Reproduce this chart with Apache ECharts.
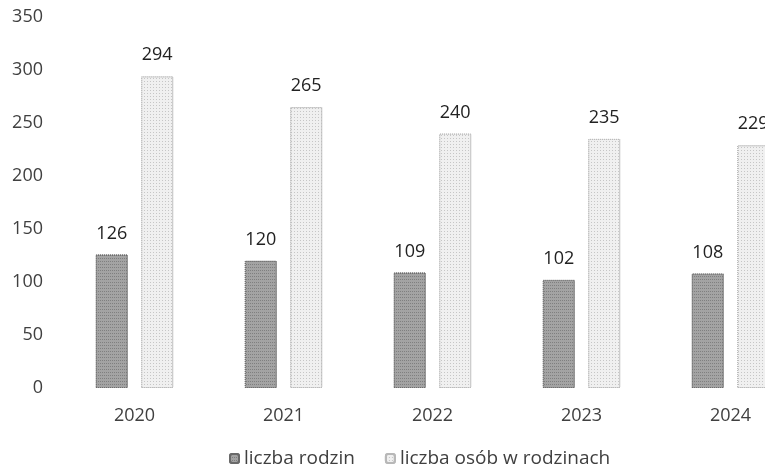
<!DOCTYPE html>
<html>
<head>
<meta charset="utf-8">
<script src="https://cdn.jsdelivr.net/npm/echarts@6/dist/echarts.min.js"></script>
<style>html,body{margin:0;padding:0;background:#fff;overflow:hidden;width:765px;height:475px;}#c{width:810px;height:475px;}</style>
</head>
<body>
<div id="c"></div>
<script>
const categories = ['2020', '2021', '2022', '2023', '2024'];
const families = [126, 120, 109, 102, 108];
const persons = [294, 265, 240, 235, 229];
const yTicks = { min: 0, max: 350, interval: 50 };
const seriesNames = ['liczba rodzin', 'liczba osób w rodzinach'];

const chart = echarts.init(document.getElementById('c'));
const font = '"Open Sans", sans-serif';
chart.setOption({
  animation: false,
  backgroundColor: '#fff',
  grid: { left: 60, width: 745, top: 17, bottom: 87, containLabel: false },
  legend: {
    top: 444, left: 224,
    itemWidth: 9, itemHeight: 9, itemGap: 30,
    textStyle: { fontFamily: font, fontSize: 19, color: '#404040' },
    data: seriesNames
  },
  xAxis: {
    type: 'category', data: categories,
    axisLine: { show: false }, axisTick: { show: false },
    axisLabel: { fontFamily: font, fontSize: 18, color: '#404040', margin: 19 }
  },
  yAxis: {
    type: 'value', min: yTicks.min, max: yTicks.max, interval: yTicks.interval,
    splitLine: { show: false }, axisLine: { show: false }, axisTick: { show: false },
    axisLabel: { fontFamily: font, fontSize: 18, color: '#404040', margin: 17 }
  },
  series: [
    {
      name: seriesNames[0], type: 'bar', data: families,
      barWidth: 32, barGap: '42%',
      itemStyle: {
        color: '#a3a3a3', borderColor: '#6a6a6a', borderWidth: 1, borderType: 'dotted',
        decal: { symbol: 'rect', symbolSize: 1, color: 'rgba(60,60,60,0.35)', dashArrayX: [1, 1], dashArrayY: [1, 2], rotation: 0 }
      },
      label: { show: true, position: 'top', distance: 12, fontFamily: font, fontSize: 18, color: '#222' }
    },
    {
      name: seriesNames[1], type: 'bar', data: persons,
      barWidth: 32,
      itemStyle: {
        color: '#f0f0f0', borderColor: '#b8b8b8', borderWidth: 1, borderType: 'dotted',
        decal: { symbol: 'rect', symbolSize: 1, color: 'rgba(120,120,120,0.35)', dashArrayX: [1, 2], dashArrayY: [1, 2], rotation: 0 }
      },
      label: { show: true, position: 'top', distance: 12, fontFamily: font, fontSize: 18, color: '#222' }
    }
  ]
});
</script>
</body>
</html>
